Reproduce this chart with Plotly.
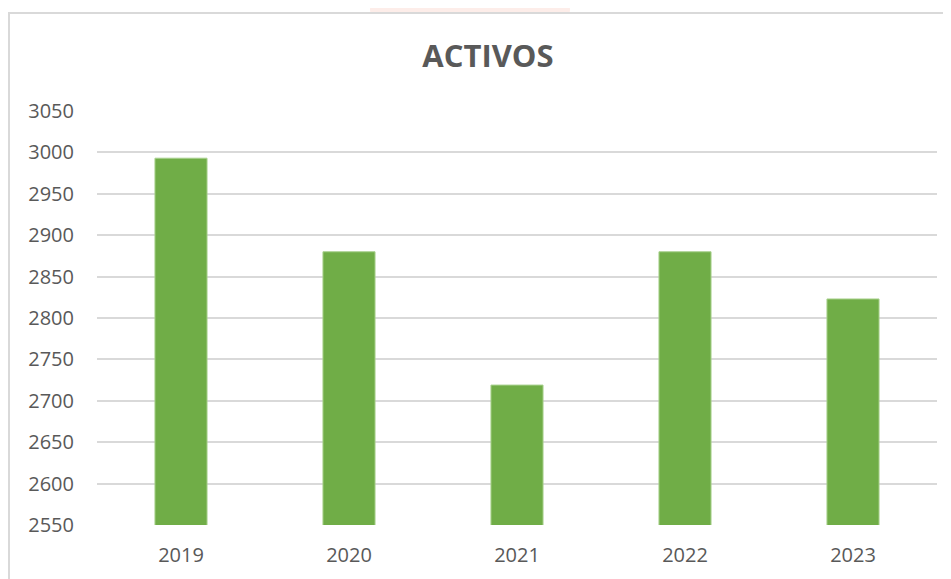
import plotly.graph_objects as go

years = ["2019", "2020", "2021", "2022", "2023"]
activos = [2993, 2880, 2719, 2880, 2823]
y_ticks = [2550, 2600, 2650, 2700, 2750, 2800, 2850, 2900, 2950, 3000, 3050]

# the page body adds an 8px offset, so the figure is sized/placed to compensate
OFF = 8
W, H = 951 - OFF, 579 - OFF
L, R, T, B = 97 - OFF, 14, 111 - OFF, 54
pw, ph = W - L - R, H - T - B

def px_x(x):
    return (x - OFF - L) / pw

def px_y(y):
    return (H - B - (y - OFF)) / ph

fig = go.Figure()
fig.add_trace(go.Bar(
    x=years, y=activos,
    marker=dict(color="#70AD47", line=dict(color="#A9D18E", width=1)),
    width=0.31,
))

shapes = [
    # faint watermark fragment above the chart frame
    dict(type="circle", xref="paper", yref="paper", layer="below",
         x0=px_x(370), x1=px_x(570), y0=px_y(60), y1=px_y(-40),
         fillcolor="rgba(240,140,120,0.16)", line=dict(width=0)),
    # white chart area
    dict(type="rect", xref="paper", yref="paper", layer="below",
         x0=px_x(9), x1=px_x(970), y0=px_y(13), y1=px_y(600),
         fillcolor="white", line=dict(color="#D9D9D9", width=2)),
]

fig.update_layout(
    width=W, height=H,
    margin=dict(l=L, r=R, t=T, b=B, pad=0),
    paper_bgcolor="rgba(0,0,0,0)", plot_bgcolor="rgba(0,0,0,0)",
    showlegend=False,
    shapes=shapes,
    title=dict(text="<b>ACTIVOS</b>", x=(488 - OFF) / W, xanchor="center",
               y=1 - (56 - OFF) / H, yanchor="middle",
               font=dict(family="Open Sans", size=31, color="#595959")),
    font=dict(family="Open Sans", color="#595959"),
    xaxis=dict(showgrid=False, showline=False, zeroline=False,
               tickfont=dict(size=20, color="#595959"),
               ticks="", ticklabelstandoff=16),
    yaxis=dict(range=[2550, 3050], tickvals=y_ticks,
               showgrid=True, gridcolor="#D9D9D9", gridwidth=1.5,
               zeroline=False, showline=False,
               tickfont=dict(size=20, color="#595959"),
               ticks="", ticklabelstandoff=22),
    bargap=0.69,
)

fig.write_html("out.html")
